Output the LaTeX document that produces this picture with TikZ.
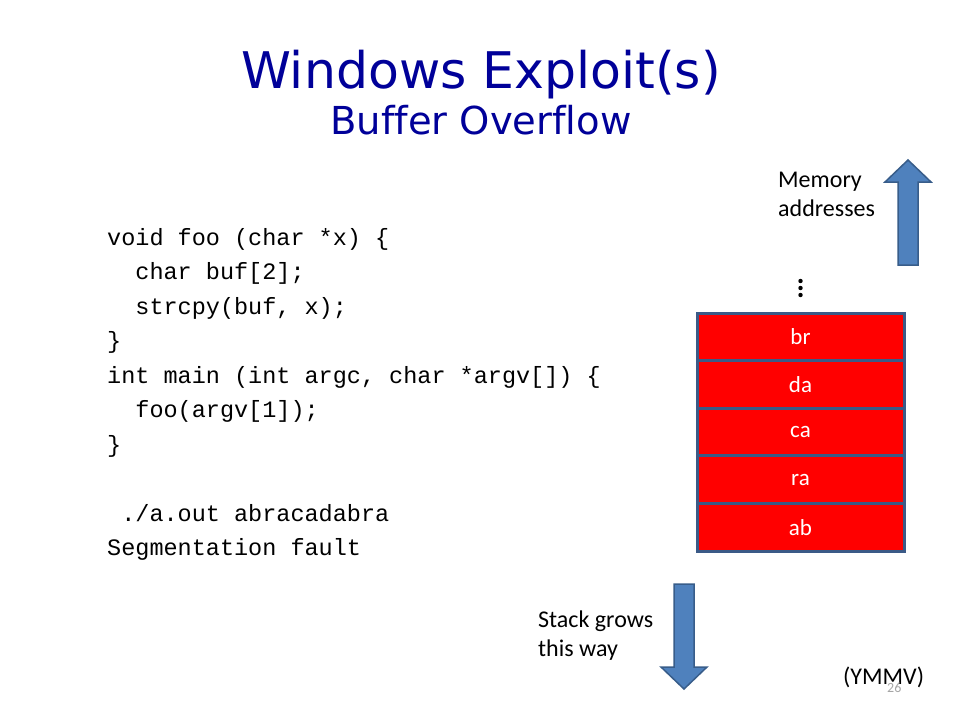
\documentclass[tikz,border=0pt]{standalone}
\usepackage{fontspec}
\setmainfont{Carlito}
\newfontfamily\titlefont[Ligatures=NoCommon]{DejaVu Sans}
\newfontfamily\codefont{Liberation Mono}
\begin{document}
\begin{tikzpicture}[x=1pt,y=-1pt,
  titlestyle/.style={font=\titlefont, text=titleblue, inner sep=0pt},
  codeline/.style={font=\codefont\fontsize{23.5}{23.5}\selectfont, anchor=base west, inner sep=0pt},
  label/.style={font=\fontsize{24}{24}\selectfont, anchor=base west, inner sep=0pt},
  cell/.style={draw=cellborder, line width=3pt, fill=red, minimum width=207pt, minimum height=47.6pt, text=white, font=\fontsize{23}{23}\selectfont, inner sep=0pt},
  bigarrow/.style={fill=arrowfill, draw=arrowedge, line width=1.5pt, line join=miter}
]
\definecolor{titleblue}{HTML}{000099}
\definecolor{cellborder}{HTML}{3B5A87}
\definecolor{arrowfill}{HTML}{4F81BD}
\definecolor{arrowedge}{HTML}{385D8A}
\useasboundingbox[fill=white] (0,0) rectangle (960,720);

\node[titlestyle, font=\titlefont\fontsize{50.5}{50.5}\selectfont, anchor=base] (title) at (481,88) {Windows Exploit(s)};
\node[titlestyle, font=\titlefont\fontsize{38.5}{38.5}\selectfont, anchor=base] (subtitle) at (481,134) {Buf\kern0pt f\kern0pt er Overf\kern0pt low};

\node[codeline] (c1) at (107,245) {void foo (char *x) \{};
\node[codeline] (c2) at (107,279.5) {\ \ char buf[2];};
\node[codeline] (c3) at (107,314) {\ \ strcpy(buf, x);};
\node[codeline] (c4) at (107,348.5) {\}};
\node[codeline] (c5) at (107,383) {int main (int argc, char *argv[]) \{};
\node[codeline] (c6) at (107,417.5) {\ \ foo(argv[1]);};
\node[codeline] (c7) at (107,452) {\}};
\node[codeline] (c8) at (107,521) {\ ./a.out abracadabra};
\node[codeline] (c9) at (107,555.5) {Segmentation fault};

\node[label] (mem1) at (778,187) {Memory};
\node[label] (mem2) at (778,216) {addresses};

\draw[bigarrow] (898,265) -- (898,182) -- (885,182) -- (908,160) -- (931,182) -- (918,182) -- (918,265) -- cycle;

\foreach \yy in {281,288,295} \fill (800.5,\yy) circle (2.2);

\node[cell] (br) at (800.5,336.8) {br};
\node[cell] (da) at (800.5,384.4) {da};
\node[cell] (ca) at (800.5,432) {ca};
\node[cell] (ra) at (800.5,479.6) {ra};
\node[cell] (ab) at (800.5,527.2) {ab};

\draw[bigarrow] (674,584) -- (694,584) -- (694,667) -- (707,667) -- (684,689) -- (661,667) -- (674,667) -- cycle;

\node[label] (stack1) at (538,627) {Stack grows};
\node[label] (stack2) at (538,656) {this way};
\node[label] (ymmv) at (843,684) {(YMMV)};
\node[font=\fontsize{14}{14}\selectfont, text=gray!70, anchor=base west, inner sep=0pt] (pg) at (887,692) {26};
\end{tikzpicture}
\end{document}
